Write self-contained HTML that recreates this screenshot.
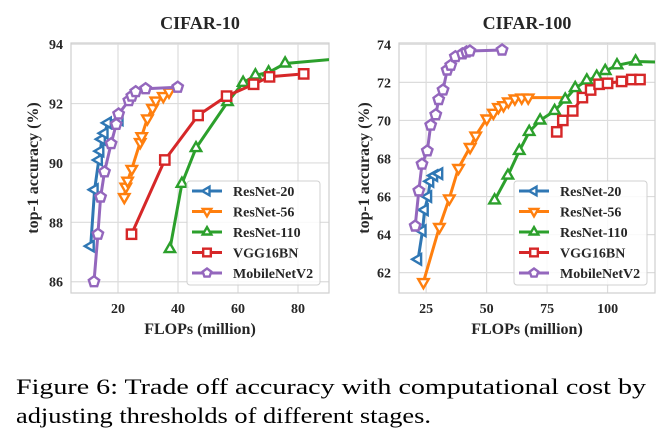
<!DOCTYPE html>
<html><head><meta charset="utf-8">
<style>
html,body{margin:0;padding:0;background:#fff;}
svg{display:block;font-family:"Liberation Serif","Times New Roman",Times,serif;}
svg text{font-family:"Liberation Serif","Times New Roman",Times,serif;}
</style></head>
<body>
<svg id="fig" width="662" height="444" viewBox="0 0 662 444" xmlns="http://www.w3.org/2000/svg" font-family="Liberation Serif, Times New Roman, serif">
<text x="16" y="394" font-size="22" fill="#000" textLength="630" lengthAdjust="spacingAndGlyphs">Figure 6:  Trade off accuracy with computational cost by</text>
<text x="16" y="423" font-size="22" fill="#000" textLength="415" lengthAdjust="spacingAndGlyphs">adjusting thresholds of different stages.</text>
</svg>
<script>
// ---- data ----
const seriesNames = ["ResNet-20","ResNet-56","ResNet-110","VGG16BN","MobileNetV2"];
const seriesColors = ["#2f77b4","#ff7f0e","#2ca02c","#d62728","#9467bd"];
const seriesMarkers = ["left","down","up","square","pentagon"];

const c10_r20_x = [10.9,12.2,13.6,14.1,14.6,15.5,16.6,20.5];
const c10_r20_y = [87.2,89.1,90.1,90.4,90.8,91.0,91.35,91.45];
const c10_r56_x = [22.1,22.6,23.2,24.6,27.4,27.9,29.8,31.5,32.6,35.1,37.0];
const c10_r56_y = [88.85,89.2,89.4,89.8,90.7,90.9,91.5,91.85,92.1,92.25,92.4];
const c10_r110_x = [37.3,41.3,46.0,56.5,61.7,65.8,70.2,75.7];
const c10_r110_y = [87.1,89.3,90.5,92.05,92.7,92.95,93.05,93.35];
const c10_r110_tail_x = [75.7,95];
const c10_r110_tail_y = [93.35,93.52];
const c10_vgg_x = [24.5,35.6,46.7,56.2,65.2,70.5,81.9];
const c10_vgg_y = [87.6,90.1,91.6,92.25,92.65,92.9,93.0];
const c10_mb_x = [12.0,13.3,14.2,15.5,17.7,19.4,20.2,23.6,24.6,25.9,29.2,39.9];
const c10_mb_y = [86.0,87.6,88.85,89.7,90.65,91.3,91.65,92.1,92.25,92.4,92.5,92.55];

const c100_r20_x = [21.7,23.5,24.4,25.8,26.7,28.3,30.4];
const c100_r20_y = [62.7,64.2,65.3,66.0,66.8,67.1,67.2];
const c100_r56_x = [23.9,30.5,34.6,38.4,43.2,45.5,50.1,52.8,54.9,57.0,59.0,61.7,64.5,67.2];
const c100_r56_y = [61.5,64.4,65.9,67.5,68.6,69.2,70.1,70.4,70.7,70.8,71.0,71.15,71.2,71.2];
const c100_r56_tail_x = [67.2,81.7];
const c100_r56_tail_y = [71.2,71.2];
const c100_r110_x = [53.3,58.8,63.5,67.6,72.1,78.1,82.5,86.6,91.4,95.5,99.0,103.9,111.6];
const c100_r110_y = [65.8,67.1,68.4,69.4,70.0,70.5,71.1,71.7,72.1,72.3,72.6,72.9,73.1];
const c100_r110_tail_x = [111.6,125];
const c100_r110_tail_y = [73.1,73.05];
const c100_vgg_x = [79.0,81.5,85.6,89.6,93.0,96.5,100.0,105.8,110.0,113.4];
const c100_vgg_y = [69.4,70.0,70.5,71.2,71.6,71.9,71.95,72.05,72.15,72.15];
const c100_mb_x = [20.5,22.0,23.3,25.5,26.9,29.0,30.2,32.0,33.7,35.2,37.1,40.0,41.7,43.1,56.4];
const c100_mb_y = [64.45,66.3,67.7,68.4,69.75,70.3,71.1,71.6,72.65,72.9,73.35,73.5,73.6,73.65,73.7];

const c10_xticks = [20,40,60,80];
const c10_yticks = [86,88,90,92,94];
const c100_xticks = [25,50,75,100];
const c100_yticks = [62,64,66,68,70,72,74];

const NS = "http://www.w3.org/2000/svg";
const svg = document.getElementById('fig');
function mk(tag, attrs, parent){
  const e = document.createElementNS(NS, tag);
  for (const k in attrs) e.setAttribute(k, attrs[k]);
  (parent||svg).appendChild(e);
  return e;
}
function markerShape(type, cx, cy, r, color, parent){
  let e;
  if (type === "square") {
    e = mk('rect',{x:cx-r*0.85,y:cy-r*0.85,width:r*1.7,height:r*1.7},parent);
  } else {
    let pts = [];
    if (type === "pentagon") {
      for (let i=0;i<5;i++){const a=-Math.PI/2+i*2*Math.PI/5;pts.push([cx+r*Math.cos(a),cy+r*Math.sin(a)]);}
    } else {
      const base = {up:-Math.PI/2, down:Math.PI/2, left:Math.PI}[type];
      for (let i=0;i<3;i++){const a=base+i*2*Math.PI/3;pts.push([cx+r*1.1*Math.cos(a),cy+r*1.1*Math.sin(a)]);}
    }
    e = mk('polygon',{points:pts.map(p=>p[0].toFixed(1)+','+p[1].toFixed(1)).join(' ')},parent);
  }
  e.setAttribute('fill','#fff');
  e.setAttribute('stroke',color);
  e.setAttribute('stroke-width','2.4');
  return e;
}

function panel(cfg){
  const g = mk('g',{});
  
  
  const X = v => cfg.px0 + (v - cfg.xmin) / (cfg.xmax - cfg.xmin) * (cfg.px1 - cfg.px0);
  const Y = v => cfg.py1 - (v - cfg.ymin) / (cfg.ymax - cfg.ymin) * (cfg.py1 - cfg.py0);
  const clip = mk('clipPath',{id:cfg.name+'-clip'},g);
  mk('rect',{x:cfg.px0,y:cfg.py0,width:cfg.px1-cfg.px0,height:cfg.py1-cfg.py0},clip);
  cfg.xticks.forEach(t=>{
    const l = mk('line',{x1:X(t),x2:X(t),y1:cfg.py0,y2:cfg.py1,stroke:'#dcdcdc','stroke-width':1.2},g);
    
    
    const tx = mk('text',{x:X(t),y:cfg.py1+20,'text-anchor':'middle','font-size':14,'font-weight':'bold',fill:'#262626'},g);
    tx.textContent = t;
    
    
  });
  cfg.yticks.forEach(t=>{
    const l = mk('line',{x1:cfg.px0,x2:cfg.px1,y1:Y(t),y2:Y(t),stroke:'#dcdcdc','stroke-width':1.2},g);
    
    
    const tx = mk('text',{x:cfg.px0-8,y:Y(t)+5,'text-anchor':'end','font-size':14,'font-weight':'bold',fill:'#262626'},g);
    tx.textContent = t;
    
    
  });
  const fr = mk('rect',{x:cfg.px0,y:cfg.py0,width:cfg.px1-cfg.px0,height:cfg.py1-cfg.py0,fill:'none',stroke:'#cfcfcf','stroke-width':1.2},g);
  
  
  const title = mk('text',{x:(cfg.px0+cfg.px1)/2,y:29,'text-anchor':'middle','font-size':18,'font-weight':'bold',fill:'#262626'},g);
  title.textContent = cfg.title;
  
  
  const xl = mk('text',{x:(cfg.px0+cfg.px1)/2,y:334,'text-anchor':'middle','font-size':16,'font-weight':'bold',fill:'#262626'},g);
  xl.textContent = 'FLOPs (million)';
  
  
  const yl = mk('text',{x:0,y:0,'text-anchor':'middle','font-size':16,'font-weight':'bold',fill:'#262626',transform:'translate('+cfg.ylx+',168) rotate(-90)'},g);
  yl.textContent = 'top-1 accuracy (%)';
  
  
  const sg = mk('g',{'clip-path':'url(#'+cfg.name+'-clip)'},g);
  cfg.series.forEach((s,i)=>{
    const col = seriesColors[i];
    const pts = s.x.map((v,k)=>X(v).toFixed(1)+','+Y(s.y[k]).toFixed(1)).join(' ');
    if (s.tx) {
      const tl = mk('polyline',{points:s.tx.map((v,k)=>X(v).toFixed(1)+','+Y(s.ty[k]).toFixed(1)).join(' '),fill:'none',stroke:col,'stroke-width':3},sg);
      
      
    }
    const pl = mk('polyline',{points:pts,fill:'none',stroke:col,'stroke-width':3,'stroke-linejoin':'round'},sg);
    
    
    s.x.forEach((v,k)=>{
      const m = markerShape(seriesMarkers[i], X(v), Y(s.y[k]), 5.5, col, sg);
      
      
    });
  });
  const lg = mk('g',{},g);
  
  
  mk('rect',{x:cfg.lx,y:181,width:133,height:104,rx:3,fill:'#fff','fill-opacity':0.85,stroke:'#d0d0d0','stroke-width':1},lg);
  seriesNames.forEach((n,i)=>{
    const yy = 191 + i*20.5;
    const e = mk('g',{},lg);
    
    
    mk('line',{x1:cfg.lx+5,x2:cfg.lx+35,y1:yy,y2:yy,stroke:seriesColors[i],'stroke-width':3},e);
    markerShape(seriesMarkers[i], cfg.lx+20, yy, 4.5, seriesColors[i], e);
    const t = mk('text',{x:cfg.lx+46,y:yy+5,'font-size':14,'font-weight':'bold',fill:'#262626'},e);
    t.textContent = n;
  });
}

panel({name:'cifar10-chart',title:'CIFAR-10',px0:71,px1:329,py0:43,py1:293,xmin:4.33,xmax:90.33,ymin:85.62,ymax:94.04,
  xticks:c10_xticks,yticks:c10_yticks,ylx:38,lx:187,
  series:[{x:c10_r20_x,y:c10_r20_y},{x:c10_r56_x,y:c10_r56_y},{x:c10_r110_x,y:c10_r110_y,tx:c10_r110_tail_x,ty:c10_r110_tail_y},{x:c10_vgg_x,y:c10_vgg_y},{x:c10_mb_x,y:c10_mb_y}]});
panel({name:'cifar100-chart',title:'CIFAR-100',px0:399,px1:655,py0:43,py1:293,xmin:13.8,xmax:119.6,ymin:60.93,ymax:74.07,
  xticks:c100_xticks,yticks:c100_yticks,ylx:369,lx:514,
  series:[{x:c100_r20_x,y:c100_r20_y},{x:c100_r56_x,y:c100_r56_y,tx:c100_r56_tail_x,ty:c100_r56_tail_y},{x:c100_r110_x,y:c100_r110_y,tx:c100_r110_tail_x,ty:c100_r110_tail_y},{x:c100_vgg_x,y:c100_vgg_y},{x:c100_mb_x,y:c100_mb_y}]});
</script>
</body></html>
